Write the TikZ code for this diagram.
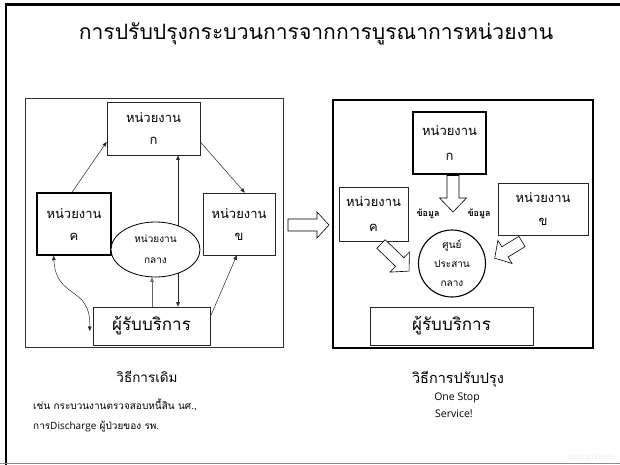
\documentclass[tikz,border=0pt]{standalone}
\usepackage{fontspec}
\setmainfont[Script=Thai]{Loma}
\newfontfamily\latinf{Open Sans}
\usetikzlibrary{arrows.meta,calc,shapes.geometric}
\tikzset{
  box/.style={draw, inner sep=0pt, align=center, text=black},
  thinbox/.style={box, line width=0.6pt, draw=black!85},
  thickbox/.style={box, line width=1.4pt, draw=black},
  conn/.style={line width=0.5pt, draw=black!85},
  tip/.style={-{Triangle[length=4.5pt,width=3.6pt]}},
  dtip/.style={{Triangle[length=4.5pt,width=3.6pt]}-{Triangle[length=4.5pt,width=3.6pt]}},
  harrow/.style={draw=black, line width=0.6pt, fill=white},
  lbl/.style={inner sep=0pt, text=black},
}
\newcommand\hollowarr[7]{%
  \draw[harrow,shift={(#1,#2)},rotate=#3] (0,-#5/2) -- (#4-#7,-#5/2) -- (#4-#7,-#6/2) -- (#4,0) -- (#4-#7,#6/2) -- (#4-#7,#5/2) -- (0,#5/2) -- cycle;}
\begin{document}
\begin{tikzpicture}[x=1pt,y=-1pt]
\useasboundingbox (0,0) rectangle (620,465);
\fill[white] (0,0) rectangle (620,465);
% slide frame
\draw[line width=2.2pt, black] (5.8,465) -- (5.8,4.5) -- (620,4.5);
\draw[line width=1.2pt, black!45] (0,463.6) -- (620,463.6);
% title
\node[lbl, font=\fontsize{21.1}{25}\selectfont] (title) at (316,34) {การปรับปรุงกระบวนการจากการบูรณาการหน่วยงาน};

% ---------- left panel ----------
\node[draw=black!80, line width=0.8pt, minimum width=258, minimum height=249, inner sep=0pt] (lpanel) at (154,222.5) {};
\node[thinbox, minimum width=93, minimum height=53, font=\fontsize{13}{22}\selectfont] (ka) at (153.5,128.5) {หน่วยงาน\\ก};
\node[thickbox, minimum width=74, minimum height=62, font=\fontsize{13}{22}\selectfont] (kc) at (74,224) {หน่วยงาน\\ค};
\node[thinbox, minimum width=72, minimum height=62, font=\fontsize{13}{22}\selectfont] (kb) at (239,224) {หน่วยงาน\\ข};
\node[thinbox, minimum width=117, minimum height=38, font=\fontsize{17}{20}\selectfont] (srv) at (151.5,326) {ผู้รับบริการ};
\coordinate (vx) at (178,0);
\coordinate (ux) at (152,0);
\draw[conn, dtip] (vx |- ka.south) -- (vx |- srv.north);
\node[ellipse, draw=black, line width=0.8pt, fill=white, minimum width=89, minimum height=55, inner sep=0pt, align=center, font=\fontsize{10}{21}\selectfont] (ell) at (155.5,249.5) {หน่วยงาน\\กลาง};
\draw[conn, draw=black!60, tip] (ux |- srv.north) -- (ux |- ell.south);
\draw[conn, tip] ($(kc.north)+(-2,0)$) -- ($(ka.south west)!0.25!(ka.north west)$);
\draw[conn, tip] ($(ka.south east)!0.25!(ka.north east)$) -- ($(kb.north west)!0.58!(kb.north east)$);
\draw[conn, tip] ($(srv.south east)!0.74!(srv.north east)$) -- ($(kb.south west)!0.47!(kb.south east)$);
\draw[conn, dtip] ($(kc.south west)!0.23!(kc.south east)$) .. controls (56,300) and (91,285) .. ($(srv.west)+(-3,5)$);

% arrow between panels
\hollowarr{288}{225}{0}{41}{12}{26}{12}

% ---------- right panel ----------
\node[draw=black, line width=1.4pt, minimum width=260, minimum height=248, inner sep=0pt] (rpanel) at (463,224) {};
\node[thickbox, minimum width=73, minimum height=62, font=\fontsize{13}{25}\selectfont] (rka) at (449.5,143) {หน่วยงาน\\ก};
\node[thinbox, minimum width=69, minimum height=54, font=\fontsize{13}{25}\selectfont] (rkc) at (373.5,214) {หน่วยงาน\\ค};
\node[thinbox, minimum width=90, minimum height=52, font=\fontsize{13}{23}\selectfont] (rkb) at (543,209) {หน่วยงาน\\ข};
\node[circle, draw=black, line width=1.1pt, minimum size=67, inner sep=0pt, align=center, font=\fontsize{10}{19}\selectfont] (hub) at (452,263.5) {ศูนย์\\ประสาน\\กลาง};
\node[thinbox, minimum width=163, minimum height=38, font=\fontsize{17}{20}\selectfont] (rsrv) at (451.5,326) {ผู้รับบริการ};
\node[lbl, font=\fontsize{9}{10}\selectfont\bfseries] (dl) at (428,214) {ข้อมูล};
\node[lbl, font=\fontsize{9}{10}\selectfont\bfseries] (dr) at (479,214) {ข้อมูล};
\hollowarr{453}{175.5}{-90}{36.5}{12}{27}{14}
\hollowarr{381}{244}{-44}{39}{12}{28}{13}
\hollowarr{522}{241.5}{-148.6}{32}{12}{27}{12}

% ---------- captions ----------
\node[lbl, font=\fontsize{13.5}{16}\selectfont] (capl) at (147,377) {วิธีการเดิม};
\node[lbl, font=\fontsize{14.5}{17}\selectfont] (capr) at (458,379) {วิธีการปรับปรุง};
\node[lbl, anchor=west, font=\fontsize{10}{12}\selectfont] (ex1) at (33,405) {เช่น กระบวนงานตรวจสอบหนี้สิน นศ.,};
\node[lbl, anchor=west, font=\fontsize{10}{12}\selectfont] (ex2) at (33,427) {การ{\latinf Discharge} ผู้ป่วยของ รพ.};
\node[lbl, font=\latinf\fontsize{10.5}{12}\selectfont] (os1) at (457,397.5) {One Stop};
\node[lbl, font=\latinf\fontsize{10.5}{12}\selectfont] (os2) at (454,414) {Service!};
\node[lbl, text=black!8, font=\latinf\fontsize{6}{7}\selectfont] (site) at (591,457) {YOUR SITE HERE};
\end{tikzpicture}
\end{document}
